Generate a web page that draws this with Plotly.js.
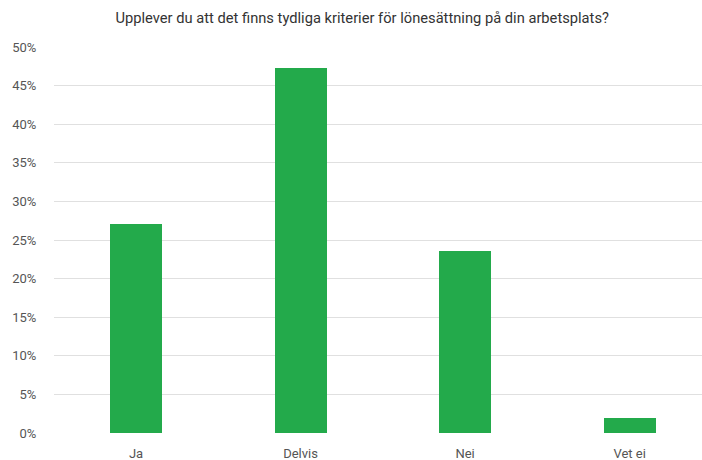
<!DOCTYPE html>
<html>
<head>
<meta charset="utf-8">
<script src="https://cdn.plot.ly/plotly-3.0.1.min.js"></script>
<style>html,body{margin:0;padding:0;background:#fff;}#chart{width:702px;height:460px;}</style>
</head>
<body>
<div id="chart"></div>
<script>
var categories = ["Ja", "Delvis", "Nei", "Vet ei"];
var values = [0.271, 0.473, 0.236, 0.019];
var yTickValues = [0, 0.05, 0.10, 0.15, 0.20, 0.25, 0.30, 0.35, 0.40, 0.45, 0.50];
var yTickLabels = ["0%", "5%", "10%", "15%", "20%", "25%", "30%", "35%", "40%", "45%", "50%"];
var chartTitle = "Upplever du att det finns tydliga kriterier för lönesättning på din arbetsplats?";

var trace = {
  type: "bar",
  x: [0, 1, 2, 3],
  y: values,
  width: 0.316,
  marker: {color: "#23AA4B", line: {width: 0}},
  hoverinfo: "none"
};

var layout = {
  width: 702, height: 460,
  margin: {l: 54, r: 0, t: 47, b: 27},
  paper_bgcolor: "#fff", plot_bgcolor: "#fff",
  font: {family: "Roboto, 'Noto Sans', sans-serif", color: "#555", size: 13},
  title: {text: chartTitle, x: 0.516, xref: "container", xanchor: "center", y: 0.962, yanchor: "middle",
          font: {size: 14.7, color: "#333"}},
  showlegend: false,
  bargap: 0,
  xaxis: {
    range: [-0.4985, 3.44],
    tickvals: [0, 1, 2, 3],
    ticktext: categories,
    showgrid: false, zeroline: false, showline: false,
    ticks: "outside", ticklen: 8, tickcolor: "rgba(0,0,0,0)",
    tickfont: {size: 13, color: "#555"}
  },
  yaxis: {
    range: [0, 0.5],
    tickvals: yTickValues,
    ticktext: yTickLabels,
    showgrid: true, gridcolor: "#e0e0e0", gridwidth: 1,
    zeroline: false, showline: false,
    ticks: "outside", ticklen: 14, tickcolor: "rgba(0,0,0,0)",
    tickfont: {size: 13, color: "#555"}
  }
};

Plotly.newPlot("chart", [trace], layout, {displayModeBar: false, staticPlot: true});
</script>
</body>
</html>
